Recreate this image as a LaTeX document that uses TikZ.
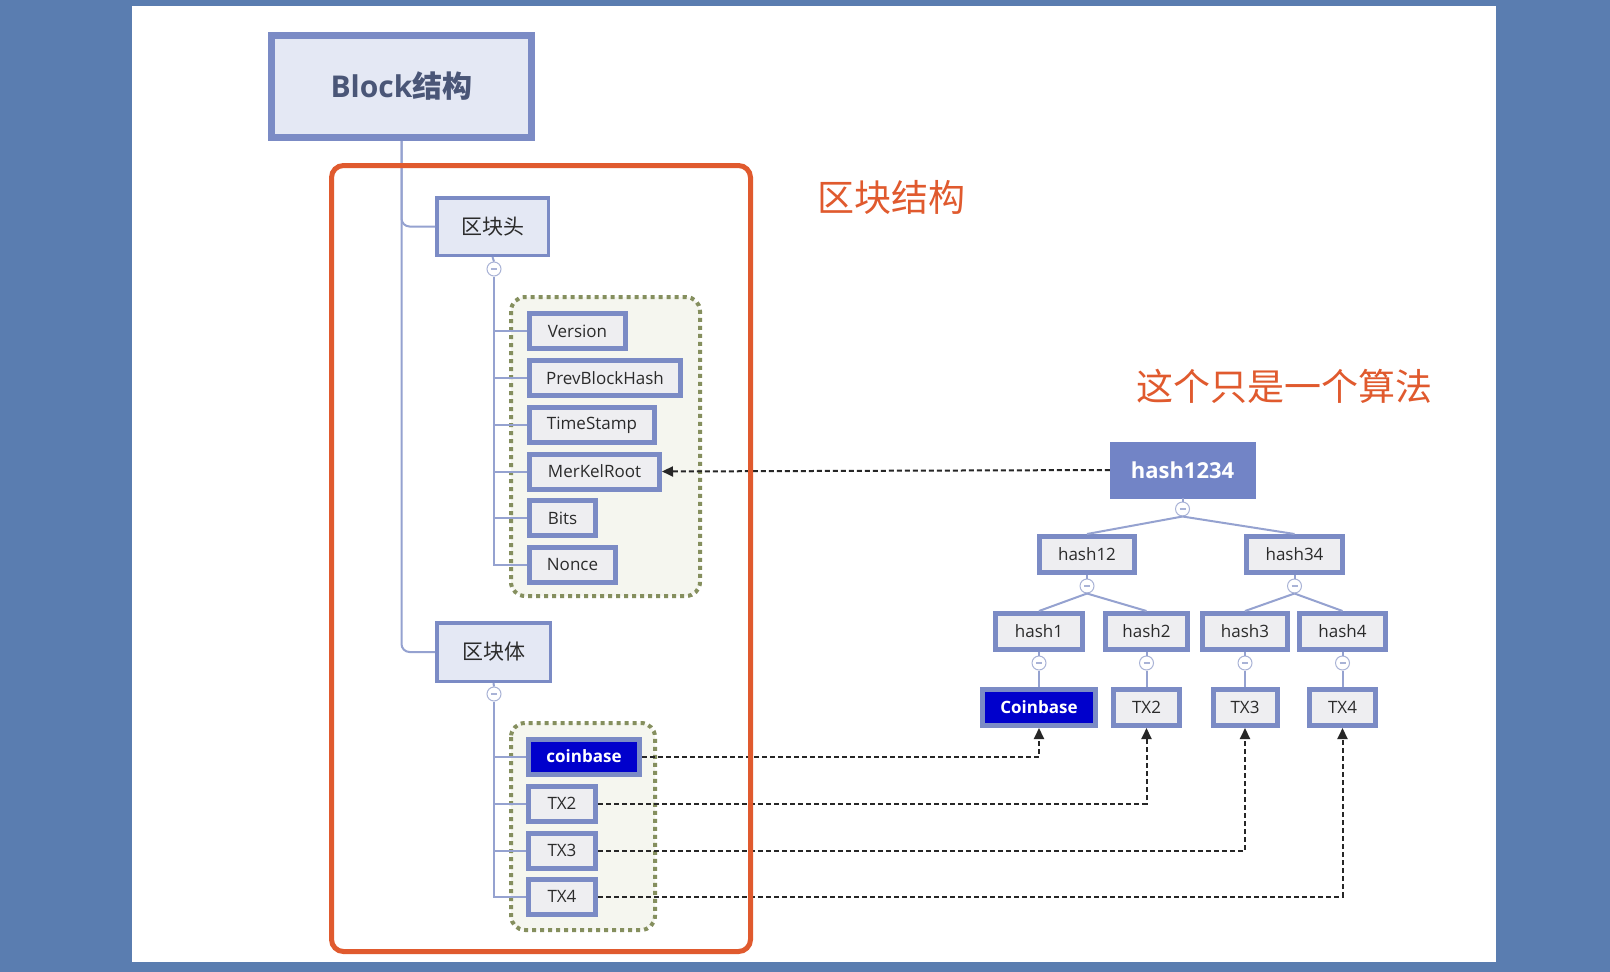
\documentclass[tikz,border=0pt]{standalone}
\usepackage{fontspec}
\setmainfont{Open Sans}
\newfontfamily\cjk{Noto Sans CJK SC}
\usetikzlibrary{arrows.meta}
\definecolor{bgblue}{HTML}{5A7DB0}
\definecolor{boxborder}{HTML}{7B8BC5}
\definecolor{lightfill}{HTML}{E4E8F4}
\definecolor{fieldfill}{HTML}{EEEEF1}
\definecolor{hashfill}{HTML}{7284C6}
\definecolor{cbfill}{HTML}{0000CC}
\definecolor{grpfill}{HTML}{F5F6EF}
\definecolor{grpline}{HTML}{858F5E}
\definecolor{anno}{HTML}{E05A2E}
\definecolor{treeline}{HTML}{95A2D0}
\definecolor{textdark}{HTML}{2B2B2B}
\definecolor{blocktext}{HTML}{4A5677}
\definecolor{minusline}{HTML}{A9B3D6}
\begin{document}
\begin{tikzpicture}[x=1pt,y=-1pt,
  mainbox/.style={draw=boxborder, fill=lightfill, inner sep=0pt, text=textdark},
  field/.style={draw=boxborder, line width=5pt, fill=fieldfill, minimum height=35pt, inner sep=0pt, text=textdark, font=\fontsize{17}{20}\selectfont, anchor=west},
  cbbox/.style={draw=boxborder, line width=5pt, fill=cbfill, minimum height=35pt, inner sep=0pt, text=white, font=\bfseries\fontsize{17}{20}\selectfont},
  hbox/.style={draw=boxborder, line width=5pt, fill=fieldfill, minimum height=36pt, inner sep=0pt, text=textdark, font=\fontsize{17}{20}\selectfont},
  minus/.style={circle, draw=minusline, line width=1pt, fill=white, minimum size=14pt, inner sep=0pt,
    path picture={\draw[minusline, line width=1.2pt] ([xshift=-3pt]path picture bounding box.center) -- ([xshift=3pt]path picture bounding box.center);}},
  tree/.style={draw=treeline, line width=2pt},
  grp/.style={draw=grpline, fill=grpfill, line width=4pt, dash pattern=on 4pt off 4pt, rounded corners=14pt},
  dashar/.style={draw=black!85, line width=2pt, dash pattern=on 5pt off 3pt, -{Triangle[length=11pt,width=10pt]}}
]
\useasboundingbox (0,0) rectangle (1610,972);
\fill[bgblue] (0,0) rectangle (1610,972);
\fill[white] (132,6) rectangle (1496,962);

% groups
\draw[grp] (511,297) rectangle (700,596);
\draw[grp] (511,723) rectangle (655,930);

% left tree nodes
\node[mainbox, line width=7pt, minimum width=260pt, minimum height=102pt, text=blocktext, font=\bfseries\fontsize{30}{36}\selectfont] (block) at (401.5,86.5) {Block{\cjk 结构}};
\node[mainbox, line width=3.5pt, minimum width=111.5pt, minimum height=57.5pt, font=\cjk\fontsize{21}{24}\selectfont] (head) at (492.5,226.5) {区块头};
\node[mainbox, line width=3.5pt, minimum width=113.5pt, minimum height=58.5pt, font=\cjk\fontsize{21}{24}\selectfont] (body) at (493.5,652) {区块体};
\node[minus] (mh) at (494,269) {};
\node[minus] (mb) at (494,694) {};

\node[field, minimum width=96pt] (version) at (527,331) {Version};
\node[field, minimum width=151pt] (prev) at (527,378) {PrevBlockHash};
\node[field, minimum width=125pt] (time) at (527,425) {TimeStamp};
\node[field, minimum width=130pt] (merkle) at (527,471.5) {MerKelRoot};
\node[field, minimum width=66pt] (bits) at (527,518) {Bits};
\node[field, minimum width=86pt] (nonce) at (527,565) {Nonce};

\node[cbbox, minimum width=111pt, anchor=west] (lcb) at (526,756.5) {coinbase};
\node[field, minimum width=67pt] (ltx2) at (526,803.5) {TX2};
\node[field, minimum width=67pt] (ltx3) at (526,850.5) {TX3};
\node[field, minimum width=67pt] (ltx4) at (526,896.5) {TX4};

% left connectors
\draw[tree, rounded corners=8pt] (block.south) |- (head.west);
\draw[tree, rounded corners=8pt] (block.south) |- (body.west);
\draw[tree] (head.south) -- (mh.north);
\draw[tree] (body.south) -- (mb.north);
\draw[tree] (mh.south) |- (nonce.west);
\foreach \n in {version,prev,time,merkle,bits}{\draw[tree] (mh.south |- \n.west) -- (\n.west);}
\draw[tree] (mb.south) |- (ltx4.west);
\foreach \n in {lcb,ltx2,ltx3}{\draw[tree] (mb.south |- \n.west) -- (\n.west);}

% right tree
\node[draw=hashfill, fill=hashfill, minimum width=145pt, minimum height=56pt, inner sep=0pt, text=white, font=\bfseries\fontsize{22}{26}\selectfont] (h1234) at (1182.5,470) {hash1234};
\node[hbox, minimum width=95pt] (h12) at (1087,554.5) {hash12};
\node[hbox, minimum width=96pt] (h34) at (1294.5,554.5) {hash34};
\node[hbox, minimum width=87pt] (h1) at (1039,631.5) {hash1};
\node[hbox, minimum width=82pt] (h2) at (1146.5,631.5) {hash2};
\node[hbox, minimum width=85pt] (h3) at (1245,631.5) {hash3};
\node[hbox, minimum width=86pt] (h4) at (1342.5,631.5) {hash4};
\node[cbbox, minimum width=113pt, minimum height=36pt] (rcb) at (1039,707.5) {Coinbase};
\node[hbox, minimum width=66pt] (rtx2) at (1146.5,707.5) {TX2};
\node[hbox, minimum width=64pt] (rtx3) at (1245,707.5) {TX3};
\node[hbox, minimum width=66pt] (rtx4) at (1342.5,707.5) {TX4};

\node[minus] (c1234) at (1182.5,509) {};
\node[minus] (c12) at (1087,586) {};
\node[minus] (c34) at (1294.5,586) {};
\node[minus] (c1) at (1039,663) {};
\node[minus] (c2) at (1146.5,663) {};
\node[minus] (c3) at (1245,663) {};
\node[minus] (c4) at (1342.5,663) {};

\draw[tree] (h1234.south) -- (c1234.north);
\draw[tree] (c1234.south) -- (h12.north);
\draw[tree] (c1234.south) -- (h34.north);
\draw[tree] (h12.south) -- (c12.north);
\draw[tree] (h34.south) -- (c34.north);
\draw[tree] (c12.south) -- (h1.north);
\draw[tree] (c12.south) -- (h2.north);
\draw[tree] (c34.south) -- (h3.north);
\draw[tree] (c34.south) -- (h4.north);
\draw[tree] (h1.south) -- (c1.north);
\draw[tree] (h2.south) -- (c2.north);
\draw[tree] (h3.south) -- (c3.north);
\draw[tree] (h4.south) -- (c4.north);
\draw[tree] (c1.south) -- (rcb.north);
\draw[tree] (c2.south) -- (rtx2.north);
\draw[tree] (c3.south) -- (rtx3.north);
\draw[tree] (c4.south) -- (rtx4.north);

% dashed arrows
\draw[dashar] (h1234.west) -- (merkle.east);
\draw[dashar] (lcb.east) -| (rcb.south);
\draw[dashar] (ltx2.east) -| (rtx2.south);
\draw[dashar] (ltx3.east) -| (rtx3.south);
\draw[dashar] (ltx4.east) -| (rtx4.south);

% annotations
\draw[anno, line width=5pt, rounded corners=12pt] (331.5,165.5) rectangle (750.5,951.5);
\node[text=anno, font=\cjk\fontsize{37}{40}\selectfont] (t1) at (891,197) {区块结构};
\node[text=anno, font=\cjk\fontsize{37}{40}\selectfont] (t2) at (1284,386) {这个只是一个算法};
\end{tikzpicture}
\end{document}
